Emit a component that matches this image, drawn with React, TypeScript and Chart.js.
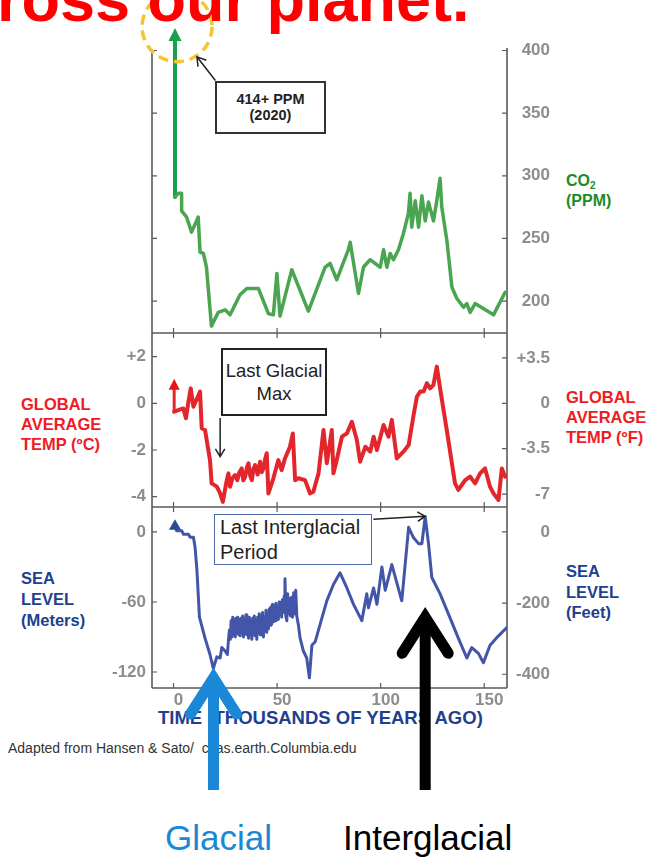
import React, { useEffect, useRef } from "react";
import { Chart, registerables } from "chart.js";

Chart.register(...registerables);

// ---------- axes ----------
const YEAR_MIN = -10.4;
const YEAR_MAX = 161;
const YEAR_TICKS = [0, 50, 100, 150];

const CO2_MIN = 174.5;
const CO2_MAX = 402;
const CO2_TICKS = [200, 250, 300, 350, 400];

const TEMP_C_MIN = -4.44;
const TEMP_C_MAX = 3.01;
const TEMP_C_TICKS = [-4, -2, 0, 2];
const TEMP_F_TICKS = [-7, -3.5, 0, 3.5];
const C_TO_F = 1.8;

const SEA_M_MIN = -133.7;
const SEA_M_MAX = 21.4;
const SEA_M_TICKS = [-120, -60, 0];
const SEA_FT_TICKS = [-400, -200, 0];
const M_TO_FT = 3.281;

// ---------- data (thousands of years ago) ----------
const co2Years = [0.7, 2.3, 3.9, 3.9, 6.3, 8.7, 11.9, 12.8, 14.4, 15.9, 18.3, 21.6, 24.9, 27.3, 32.1, 35.4, 41.0, 45.8, 48.2, 49.9, 51.4, 57.1, 65.1, 73.2, 75.6, 78.8, 84.4, 85.3, 89.3, 91.7, 94.9, 99.8, 101.4, 103.0, 104.6, 106.2, 108.6, 111.0, 113.4, 114.2, 115.0, 116.7, 118.3, 119.9, 121.5, 123.1, 125.5, 127.1, 128.7, 129.5, 132.0, 134.4, 136.8, 140.0, 141.6, 143.2, 145.6, 154.5, 160.1];
const co2Ppm = [283, 286, 286, 272, 267, 255, 267, 239, 238, 227, 180, 191, 193, 189, 205, 210, 210, 190, 189, 222, 188, 225, 192, 227, 230, 217, 241, 247, 206, 227, 233, 227, 241, 227, 238, 233, 241, 254, 270, 286, 259, 280, 259, 284, 264, 279, 264, 280, 298, 275, 248, 211, 202, 195, 198, 191, 198, 189, 207];
const co2ArrowYears = [0.7, 0.7];
const co2ArrowPpm = [283, 412];
const CO2_ARROW_TIP_PPM = 418;

const tempYears = [0.3, 2.3, 4.7, 6.0, 7.2, 8.3, 9.6, 12.8, 13.6, 15.2, 17.6, 18.4, 20.9, 22.5, 23.8, 25.7, 26.5, 27.3, 28.5, 29.7, 30.8, 31.8, 32.9, 33.7, 34.6, 35.4, 36.2, 37.0, 37.8, 38.6, 39.4, 40.6, 41.8, 42.6, 43.4, 44.2, 45.0, 45.8, 48.2, 50.6, 52.2, 53.8, 56.2, 57.6, 58.7, 60.3, 63.5, 65.9, 67.5, 70.0, 72.4, 74.0, 76.4, 77.2, 78.8, 81.3, 83.7, 86.1, 88.5, 90.1, 92.6, 95.0, 96.6, 98.2, 101.4, 103.8, 105.4, 107.8, 111.0, 113.5, 115.9, 117.5, 119.1, 120.7, 122.3, 123.9, 125.5, 127.1, 128.7, 131.9, 135.9, 137.5, 140.8, 143.2, 145.6, 148.0, 150.4, 152.8, 154.5, 156.9, 158.5, 160.1];
const tempC = [-0.36, -0.29, -0.22, -0.64, 0.07, 0.64, -0.15, 0.5, -1.07, -1.14, -2.43, -3.43, -3.57, -3.86, -4.22, -3.29, -3.0, -3.57, -3.2, -3.07, -3.29, -2.95, -2.79, -3.3, -3.14, -2.75, -2.57, -3.1, -3.29, -2.8, -2.64, -3.05, -2.5, -2.95, -2.79, -2.4, -2.14, -3.86, -3.21, -2.43, -2.86, -2.36, -1.86, -1.29, -3.29, -3.21, -3.29, -3.86, -3.79, -3.0, -1.14, -2.57, -1.14, -3.0, -2.43, -1.43, -1.29, -0.79, -1.57, -2.5, -1.86, -2.07, -1.43, -2.0, -0.93, -1.43, -0.71, -2.36, -2.07, -1.79, -0.5, 0.29, 0.5, 0.5, 0.86, 0.64, 0.79, 1.57, 0.64, -1.14, -3.43, -3.71, -3.29, -3.14, -3.43, -3.0, -2.79, -3.57, -3.86, -4.14, -2.79, -3.14];
const tempArrowYears = [0.3, 0.3];
const tempArrowC = [-0.36, 0.6];
const TEMP_ARROW_TIP_C = 1.05;

const seaYears = [0.7, 1.5, 4.0, 4.8, 7.2, 8.0, 9.6, 10.4, 11.3, 12.5, 15.2, 17.6, 19.2, 20.9, 22.5, 23.3, 24.9, 26.0, 26.5, 27.0, 27.4, 27.8, 28.2, 28.6, 29.0, 29.4, 29.8, 30.2, 30.6, 31.0, 31.4, 31.8, 32.2, 32.6, 33.0, 33.4, 33.8, 34.2, 34.6, 35.0, 35.4, 35.8, 36.2, 36.6, 37.0, 37.4, 37.8, 38.2, 38.6, 39.0, 39.4, 39.8, 40.2, 40.6, 41.0, 41.4, 41.8, 42.2, 42.6, 43.0, 43.4, 43.8, 44.2, 44.6, 45.0, 45.4, 45.8, 46.2, 46.6, 47.0, 47.4, 47.8, 48.2, 48.6, 49.0, 49.4, 49.8, 50.2, 50.6, 51.0, 51.4, 51.8, 52.2, 52.6, 53.0, 53.4, 53.8, 54.2, 54.7, 55.1, 55.5, 56.0, 56.5, 57.0, 57.5, 58.0, 58.5, 59.0, 59.5, 60.3, 61.1, 62.7, 64.3, 65.6, 66.8, 68.4, 70.8, 74.0, 77.2, 80.4, 83.7, 86.9, 90.9, 93.3, 94.1, 96.6, 98.2, 100.6, 102.2, 105.4, 110.2, 113.5, 115.9, 118.3, 119.9, 121.5, 123.1, 124.7, 128.7, 133.6, 137.5, 141.6, 144.0, 147.2, 149.6, 152.8, 156.9, 160.9];
const seaM = [5, 1, 1, -2, -2, -4.6, -4.6, -13, -33, -73, -91, -105, -117, -107, -108, -99, -102, -105, -93, -84, -92, -76, -90, -73, -88, -75, -90, -74, -86, -73, -88, -75, -89, -74, -86, -72, -90, -75, -87, -71, -88, -74, -91, -73, -86, -76, -92, -74, -87, -72, -89, -76, -92, -73, -86, -70, -88, -72, -85, -69, -90, -73, -84, -67, -86, -70, -83, -66, -80, -64, -79, -62, -77, -63, -76, -61, -72, -64, -75, -60, -70, -62, -73, -58, -69, -55, -40, -72, -76, -53, -70, -57, -72, -56, -73, -52, -70, -50, -72, -80, -91, -102, -108, -125, -97, -94, -79, -59, -45, -35, -48, -62, -76, -53, -65, -48, -62, -30, -50, -28, -59, 4, -5, -10, -10, 13, -10, -39, -53, -74, -91, -108, -99, -104, -112, -97, -89, -82];

// ---------- annotation anchors (data units) ----------
const HIGHLIGHT_YEAR = 1.7;
const HIGHLIGHT_PPM = 419;
const PPM_CALLOUT = { fromYear: 20.2, fromPpm: 376, toYear: 11.3, toPpm: 395 };
const LGM_CALLOUT = { year: 22.5, fromC: -0.63, toC: -2.28 };
const LIG_CALLOUT = { fromYear: 96.5, fromM: 11, toYear: 121.5, toM: 13.5 };
const GLACIAL_ARROW = { year: 19.3, tipM: -116.5 };
const INTERGLACIAL_ARROW = { year: 121.5, tipM: -64.5 };

const FONT = "'Liberation Sans', Arial, Helvetica, sans-serif";
const TICK_GREY = "#8d8d8d";
const FRAME = "#5a5a5a";

const pts = (xs: number[], ys: number[]) => xs.map((x, i) => ({ x, y: ys[i] }));
const setTicks = (vals: number[]) => (s: any) => {
  s.ticks = vals.map((v) => ({ value: v }));
};
const signed = (v: any) => (Number(v) > 0 ? "+" + v : String(v));

function openHead(ctx: CanvasRenderingContext2D, x1: number, y1: number, x2: number, y2: number, size: number) {
  const a = Math.atan2(y2 - y1, x2 - x1);
  ctx.beginPath();
  ctx.moveTo(x1, y1);
  ctx.lineTo(x2, y2);
  ctx.moveTo(x2 - size * Math.cos(a - 0.55), y2 - size * Math.sin(a - 0.55));
  ctx.lineTo(x2, y2);
  ctx.lineTo(x2 - size * Math.cos(a + 0.55), y2 - size * Math.sin(a + 0.55));
  ctx.stroke();
}

function triHead(ctx: CanvasRenderingContext2D, x: number, tipY: number, half: number, h: number, color: string) {
  ctx.save();
  ctx.fillStyle = color;
  ctx.beginPath();
  ctx.moveTo(x, tipY);
  ctx.lineTo(x + half, tipY + h);
  ctx.lineTo(x - half, tipY + h);
  ctx.closePath();
  ctx.fill();
  ctx.restore();
}

function bigArrow(ctx: CanvasRenderingContext2D, x: number, tipY: number, tailY: number, color: string) {
  const pathTip = tipY + 10;
  ctx.save();
  ctx.strokeStyle = color;
  ctx.lineWidth = 11;
  ctx.lineCap = "butt";
  ctx.beginPath();
  ctx.moveTo(x, tailY);
  ctx.lineTo(x, pathTip + 4);
  ctx.stroke();
  ctx.lineJoin = "miter";
  ctx.miterLimit = 10;
  ctx.lineCap = "round";
  ctx.beginPath();
  ctx.moveTo(x - 23, pathTip + 36);
  ctx.lineTo(x, pathTip);
  ctx.lineTo(x + 23, pathTip + 36);
  ctx.stroke();
  ctx.restore();
}

const decorPlugin = {
  id: "decor",
  beforeDatasetsDraw(chart: any) {
    const { ctx, chartArea } = chart;
    const { left, right } = chartArea;
    const { x, yC, yT, yS, yCR, yTR, ySR } = chart.scales;
    ctx.save();
    ctx.strokeStyle = FRAME;
    ctx.lineWidth = 1.6;
    ctx.beginPath();
    ctx.moveTo(left, yC.top + 4);
    ctx.lineTo(left, yS.bottom);
    ctx.moveTo(right, yC.top);
    ctx.lineTo(right, yS.bottom);
    [yT.top, yS.top, yS.bottom].forEach((yy: number) => {
      ctx.moveTo(left, yy);
      ctx.lineTo(right, yy);
    });
    ctx.stroke();
    const TL = 5;
    ctx.lineWidth = 1.2;
    ctx.beginPath();
    [yC, yT, yS].forEach((s: any) =>
      s.ticks.forEach((t: any) => {
        const p = s.getPixelForValue(t.value);
        ctx.moveTo(left, p);
        ctx.lineTo(left + TL, p);
      })
    );
    [yCR, yTR, ySR].forEach((s: any) =>
      s.ticks.forEach((t: any) => {
        const p = s.getPixelForValue(t.value);
        ctx.moveTo(right, p);
        ctx.lineTo(right - TL, p);
      })
    );
    x.ticks.forEach((t: any) => {
      const px = x.getPixelForValue(t.value);
      ctx.moveTo(px, yT.top - TL);
      ctx.lineTo(px, yT.top + TL);
      ctx.moveTo(px, yS.top - TL);
      ctx.lineTo(px, yS.top + TL);
      ctx.moveTo(px, yS.bottom - TL);
      ctx.lineTo(px, yS.bottom);
    });
    ctx.stroke();
    ctx.restore();
  },
  afterDraw(chart: any) {
    const { ctx } = chart;
    const { x, yC, yT, yS } = chart.scales;
    // arrow heads of the "today" markers
    const cx = x.getPixelForValue(co2ArrowYears[1]);
    triHead(ctx, cx, yC.getPixelForValue(CO2_ARROW_TIP_PPM), 6.5, 13, "#16a24c");
    const tx = x.getPixelForValue(tempArrowYears[1]);
    triHead(ctx, tx, yT.getPixelForValue(TEMP_ARROW_TIP_C), 5.5, 11, "#e8141c");

    ctx.save();
    // highlight circle around the present-day CO2 value
    ctx.strokeStyle = "#f3c530";
    ctx.lineWidth = 3.5;
    ctx.setLineDash([10, 6]);
    ctx.beginPath();
    ctx.arc(x.getPixelForValue(HIGHLIGHT_YEAR), yC.getPixelForValue(HIGHLIGHT_PPM), 35, 0, Math.PI * 2);
    ctx.stroke();
    ctx.setLineDash([]);
    // callout arrows
    ctx.strokeStyle = "#222";
    ctx.lineWidth = 1.5;
    openHead(ctx, x.getPixelForValue(PPM_CALLOUT.fromYear), yC.getPixelForValue(PPM_CALLOUT.fromPpm), x.getPixelForValue(PPM_CALLOUT.toYear), yC.getPixelForValue(PPM_CALLOUT.toPpm), 10);
    const lx = x.getPixelForValue(LGM_CALLOUT.year);
    openHead(ctx, lx, yT.getPixelForValue(LGM_CALLOUT.fromC), lx, yT.getPixelForValue(LGM_CALLOUT.toC), 9);
    openHead(ctx, x.getPixelForValue(LIG_CALLOUT.fromYear), yS.getPixelForValue(LIG_CALLOUT.fromM), x.getPixelForValue(LIG_CALLOUT.toYear), yS.getPixelForValue(LIG_CALLOUT.toM), 9);
    ctx.restore();
    // big glacial / interglacial arrows
    bigArrow(ctx, x.getPixelForValue(GLACIAL_ARROW.year), yS.getPixelForValue(GLACIAL_ARROW.tipM), 790, "#1a88d6");
    bigArrow(ctx, x.getPixelForValue(INTERGLACIAL_ARROW.year), yS.getPixelForValue(INTERGLACIAL_ARROW.tipM), 790, "#000000");
  },
};

const tickFont = { family: FONT, size: 17, weight: "bold" as const };

function leftAxis(min: number, max: number, ticks: number[], weightPx: number, order: number, show: boolean, cb?: any) {
  return {
    type: "linear",
    position: "left",
    stack: "L",
    stackWeight: weightPx,
    weight: order,
    min,
    max,
    afterBuildTicks: setTicks(ticks),
    afterFit: (s: any) => {
      s.width = 60;
    },
    grid: { display: false, drawTicks: false },
    border: { display: false },
    ticks: { display: show, color: TICK_GREY, font: tickFont, padding: 6, autoSkip: false, callback: cb || ((v: any) => String(v)) },
  };
}
function rightAxis(min: number, max: number, ticks: number[], weightPx: number, order: number, cb?: any) {
  return {
    type: "linear",
    position: "right",
    stack: "R",
    stackWeight: weightPx,
    weight: order,
    min,
    max,
    afterBuildTicks: setTicks(ticks),
    afterFit: (s: any) => {
      s.width = 43;
    },
    grid: { display: false, drawTicks: false },
    border: { display: false },
    ticks: { display: true, color: TICK_GREY, font: tickFont, padding: 6, crossAlign: "far", autoSkip: false, callback: cb || ((v: any) => String(v)) },
  };
}

const Label = ({ left, top, lh, size, color, weight, children, extra }: any) => (
  <div
    style={{
      position: "absolute",
      left,
      top,
      lineHeight: lh + "px",
      fontSize: size,
      color,
      fontWeight: weight || "bold",
      fontFamily: FONT,
      whiteSpace: "pre",
      zIndex: 0,
      ...(extra || {}),
    }}
  >
    {children}
  </div>
);

export default function App() {
  const canvasRef = useRef<HTMLCanvasElement | null>(null);

  useEffect(() => {
    const canvas = canvasRef.current;
    if (!canvas) return;
    const chart = new Chart(canvas, {
      type: "line",
      data: {
        datasets: [
          {
            label: "CO2 (ppm)",
            data: pts(co2Years, co2Ppm),
            yAxisID: "yC",
            borderColor: "#49a550",
            borderWidth: 3.5,
            pointRadius: 0,
          },
          {
            label: "CO2 today",
            data: pts(co2ArrowYears, co2ArrowPpm),
            yAxisID: "yC",
            borderColor: "#16a24c",
            borderWidth: 4,
            pointRadius: 0,
            clip: false,
          },
          {
            label: "Temperature (°C)",
            data: pts(tempYears, tempC),
            yAxisID: "yT",
            borderColor: "#e3262b",
            borderWidth: 4,
            pointRadius: 0,
          },
          {
            label: "Temperature today",
            data: pts(tempArrowYears, tempArrowC),
            yAxisID: "yT",
            borderColor: "#e3262b",
            borderWidth: 3,
            pointRadius: 0,
          },
          {
            label: "Sea level (m)",
            data: pts(seaYears, seaM),
            yAxisID: "yS",
            borderColor: "#4355a8",
            backgroundColor: "#2b4a98",
            borderWidth: 3,
            pointStyle: "triangle",
            pointRadius: (c: any) => (c.dataIndex === 0 ? 7 : 0),
            pointBorderWidth: 0,
          },
        ],
      },
      options: {
        responsive: false,
        animation: false,
        devicePixelRatio: 1,
        layout: { padding: { left: 92, right: 102, top: 48, bottom: 130 } },
        plugins: { legend: { display: false }, tooltip: { enabled: false }, title: { display: false } },
        elements: { line: { tension: 0, borderJoinStyle: "round", borderCapStyle: "round" } },
        scales: {
          x: {
            type: "linear",
            position: "bottom",
            min: YEAR_MIN,
            max: YEAR_MAX,
            afterBuildTicks: setTicks(YEAR_TICKS),
            afterFit: (s: any) => {
              s.height = 40;
            },
            grid: { display: false, drawTicks: false },
            border: { display: false },
            ticks: { color: TICK_GREY, font: tickFont, padding: 2, labelOffset: 5, maxRotation: 0, autoSkip: false },
          },
          yC: leftAxis(CO2_MIN, CO2_MAX, CO2_TICKS, 285, 3, false),
          yT: leftAxis(TEMP_C_MIN, TEMP_C_MAX, TEMP_C_TICKS, 174, 2, true, signed),
          yS: leftAxis(SEA_M_MIN, SEA_M_MAX, SEA_M_TICKS, 181, 1, true),
          yCR: rightAxis(CO2_MIN, CO2_MAX, CO2_TICKS, 285, 1),
          yTR: rightAxis(TEMP_C_MIN * C_TO_F, TEMP_C_MAX * C_TO_F, TEMP_F_TICKS, 174, 2, signed),
          ySR: rightAxis(SEA_M_MIN * M_TO_FT, SEA_M_MAX * M_TO_FT, SEA_FT_TICKS, 181, 3),
        } as any,
      },
      plugins: [decorPlugin],
    } as any);
    return () => chart.destroy();
  }, []);

  return (
    <div style={{ position: "absolute", left: 0, top: 0, width: 652, height: 858, overflow: "hidden", background: "#ffffff" }}>
      <Label left={-3} top={-33} lh={64} size={63} color="#ff0000" extra={{ zIndex: 2 }}>
        ross our planet.
      </Label>

      <div style={{ position: "absolute", left: 215, top: 81, width: 111, height: 53, boxSizing: "border-box", border: "2px solid #333", zIndex: 0 }} />
      <Label left={215} top={91} lh={16} size={14.5} color="#222" extra={{ width: 111, textAlign: "center" }}>
        {"414+ PPM\n(2020)"}
      </Label>

      <div style={{ position: "absolute", left: 221, top: 348, width: 106, height: 68, boxSizing: "border-box", border: "2px solid #222", zIndex: 0 }} />
      <Label left={221} top={359} lh={23} size={18.5} color="#222" weight="normal" extra={{ width: 106, textAlign: "center" }}>
        {"Last Glacial\nMax"}
      </Label>

      <div style={{ position: "absolute", left: 214, top: 514, width: 158, height: 51, boxSizing: "border-box", border: "1.5px solid #4a6aa8", zIndex: 0 }} />
      <Label left={220} top={515} lh={25} size={20} color="#222" weight="normal">
        {"Last Interglacial\nPeriod"}
      </Label>

      <Label left={566} top={171} lh={20} size={16} color="#1b8c23">
        <span>
          CO<sub style={{ fontSize: 10, verticalAlign: "-3px", lineHeight: 0 }}>2</sub>
        </span>
        {"\n(PPM)"}
      </Label>

      <Label left={21} top={394} lh={20} size={16.5} color="#ee1c25">
        {"GLOBAL\nAVERAGE\nTEMP (ºC)"}
      </Label>
      <Label left={566} top={387} lh={20} size={16.5} color="#ee1c25">
        {"GLOBAL\nAVERAGE\nTEMP (ºF)"}
      </Label>

      <Label left={21} top={567.5} lh={21} size={16.5} color="#203f8f">
        {"SEA\nLEVEL\n(Meters)"}
      </Label>
      <Label left={566} top={561} lh={20.5} size={16.5} color="#203f8f">
        {"SEA\nLEVEL\n(Feet)"}
      </Label>

      <Label left={158} top={707} lh={22} size={18.5} color="#203f8f">
        TIME (THOUSANDS OF YEARS AGO)
      </Label>
      <Label left={8} top={740} lh={16} size={14} color="#333" weight="normal">
        {"Adapted from Hansen & Sato/  ccas.earth.Columbia.edu"}
      </Label>

      <Label left={165} top={818} lh={40} size={35} color="#1a88d6" weight="normal">
        Glacial
      </Label>
      <Label left={343} top={818} lh={40} size={35} color="#000" weight="normal">
        Interglacial
      </Label>

      <canvas ref={canvasRef} width={652} height={858} style={{ position: "absolute", left: 0, top: 0, zIndex: 1, display: "block" }} />
    </div>
  );
}
